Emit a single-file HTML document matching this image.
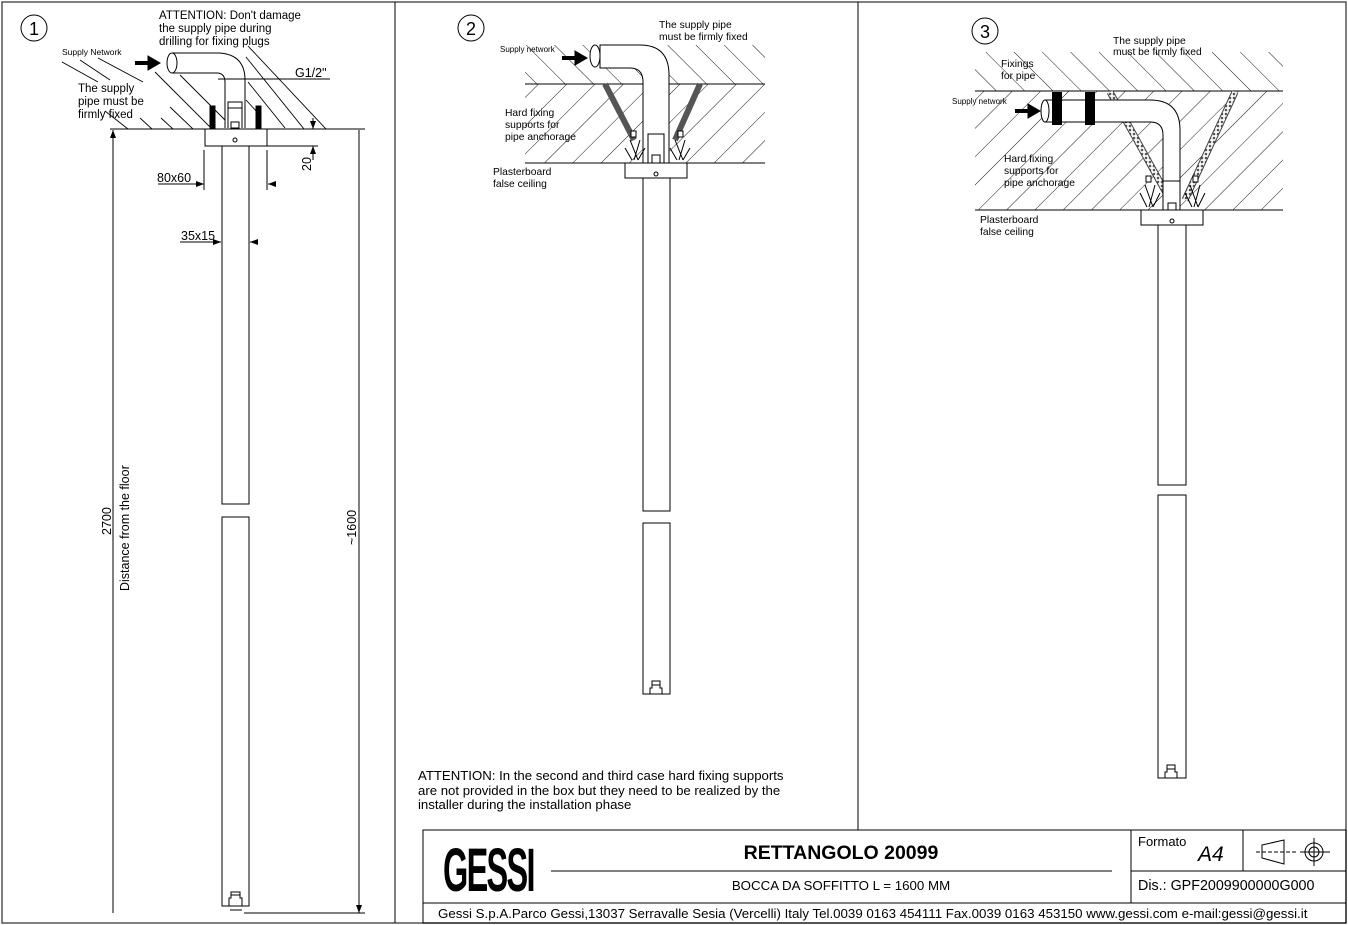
<!DOCTYPE html>
<html><head><meta charset="utf-8"><style>
html,body{margin:0;padding:0;background:#fff}
svg{display:block}
text{font-family:"Liberation Sans",Arial,sans-serif;fill:#000}
</style></head><body>
<svg width="1348" height="925" viewBox="0 0 1348 925" xmlns="http://www.w3.org/2000/svg">
<defs>
<pattern id="hf" width="20" height="20" patternUnits="userSpaceOnUse" patternTransform="rotate(45)">
<line x1="0" y1="0" x2="0" y2="20" stroke="#000" stroke-width="0.9"/></pattern>
<pattern id="hb" width="20" height="20" patternUnits="userSpaceOnUse" patternTransform="rotate(-45)">
<line x1="0" y1="0" x2="0" y2="20" stroke="#000" stroke-width="0.9"/></pattern>
<pattern id="mesh" width="4" height="4" patternUnits="userSpaceOnUse">
<rect width="4" height="4" fill="#fff"/><circle cx="2" cy="2" r="1.3" fill="#555"/></pattern>
<marker id="ar" markerWidth="8" markerHeight="6" refX="8" refY="3" orient="auto"><path d="M0,0 L8,3 L0,6z" fill="#000"/></marker>
</defs>
<g fill="none" stroke="#000" stroke-width="1">
<rect x="2" y="2" width="1344" height="921" stroke="#555" stroke-width="1.5"/>
<line x1="395" y1="2" x2="395" y2="923"/>
<line x1="858" y1="2" x2="858" y2="830"/>
<rect x="423" y="830" width="923" height="93"/>
<line x1="423" y1="903" x2="1346" y2="903"/>
<line x1="1131" y1="830" x2="1131" y2="903"/>
<line x1="1131" y1="871" x2="1346" y2="871"/>
<line x1="1243" y1="830" x2="1243" y2="871"/>
<line x1="551" y1="871" x2="1112" y2="871"/>
<path d="M1262,845 L1284,840 L1284,864 L1262,858 Z"/>
<line x1="1256" y1="852" x2="1296" y2="852" stroke-dasharray="4,2"/>
<circle cx="1314" cy="852" r="9"/><circle cx="1314" cy="852" r="5"/>
<line x1="1314" y1="838" x2="1314" y2="866"/><line x1="1300" y1="852" x2="1330" y2="852"/>

<circle cx="34" cy="28" r="13"/>
<circle cx="471" cy="28" r="13"/>
<circle cx="985" cy="31" r="13"/>

<!-- PANEL 1 -->
<line x1="110" y1="129" x2="365" y2="129"/>
<g stroke-width="0.9">
<line x1="62" y1="62" x2="98" y2="82"/><line x1="80" y1="60" x2="110" y2="80"/>
<line x1="98" y1="58" x2="143" y2="82"/>
<line x1="105" y1="111" x2="128" y2="129"/><line x1="140" y1="118" x2="152" y2="129"/>
<line x1="161" y1="118" x2="173" y2="129"/><line x1="170" y1="107" x2="193" y2="129"/>
<line x1="155" y1="72" x2="212" y2="129"/><line x1="180" y1="75" x2="225" y2="120"/>
<line x1="203" y1="75" x2="222" y2="94"/><line x1="246" y1="100" x2="258" y2="113"/>
<line x1="248" y1="82" x2="285" y2="128"/><line x1="246" y1="57" x2="304" y2="129"/>
<line x1="248" y1="46" x2="326" y2="129"/>
</g>
<path d="M172,53 L220,53 Q245,55 245,80 L245,128" fill="#fff"/>
<path d="M172,73 L218,73 Q225,74 225,82 L225,128"/>
<ellipse cx="172" cy="63" rx="5" ry="10" fill="#fff"/>
<path d="M228,128 L228,102 L242,102 L242,128 M228,108 L242,108"/>
<rect x="231" y="122" width="8" height="6"/>
<rect x="210" y="106" width="5" height="22" fill="#000"/>
<rect x="256" y="106" width="5" height="22" fill="#000"/>
<line x1="218" y1="79" x2="330" y2="79"/>
<path d="M135,63 L150,63" stroke-width="4" /><path d="M148,56 L160,63 L148,70z" fill="#000"/>
<rect x="205" y="129" width="62" height="17" fill="#fff"/>
<circle cx="235" cy="140" r="2"/>
<rect x="222" y="146" width="27" height="358"/>
<rect x="222" y="517" width="27" height="389"/>
<path d="M229,906 L229,898 L231,898 L231,892 L240,892 L240,898 L242,898 L242,906"/>
<line x1="230" y1="910" x2="242" y2="910"/>
<line x1="231" y1="895" x2="240" y2="895"/>
<line x1="267" y1="146" x2="318" y2="146"/>
<line x1="313" y1="118" x2="313" y2="129" marker-end="url(#ar)"/>
<line x1="313" y1="160" x2="313" y2="146" marker-end="url(#ar)"/>
<line x1="158" y1="184" x2="204" y2="184" marker-end="url(#ar)"/>
<line x1="276" y1="184" x2="268" y2="184" marker-end="url(#ar)"/>
<line x1="204" y1="150" x2="204" y2="190"/><line x1="267" y1="150" x2="267" y2="190"/>
<line x1="180" y1="242" x2="221" y2="242" marker-end="url(#ar)"/>
<line x1="258" y1="242" x2="250" y2="242" marker-end="url(#ar)"/>
<line x1="113" y1="913" x2="113" y2="130" marker-end="url(#ar)"/>
<line x1="359" y1="130" x2="359" y2="913" marker-end="url(#ar)"/>
<line x1="244" y1="913" x2="365" y2="913"/>

<!-- PANEL 2 -->
<rect x="525" y="84" width="240" height="79" fill="url(#hf)" stroke="none"/>
<path d="M525,45 L765,45 L765,84 L525,84 Z" fill="url(#hb)" stroke="none"/>
<line x1="525" y1="84" x2="765" y2="84"/>
<line x1="525" y1="163" x2="765" y2="163"/>
<path d="M600,45 L640,45 Q669,45 669,75 L669,163 L643,163 L643,82 Q643,68 630,68 L600,68 Z" fill="#fff"/>
<ellipse cx="595" cy="56" rx="5" ry="11" fill="#fff"/>
<path d="M605,84 L634,140" stroke="#555" stroke-width="6"/>
<path d="M700,84 L675,140" stroke="#555" stroke-width="6"/>
<path d="M562,58 L577,58" stroke-width="4"/><path d="M575,51 L587,58 L575,65z" fill="#000"/>
<rect x="648" y="134" width="16" height="29" fill="#fff"/>
<rect x="652" y="155" width="8" height="8"/>
<path d="M630,140 L638,160 M640,140 L634,160 M625,148 L632,160 M645,148 L638,160" />
<path d="M675,140 L683,160 M685,140 L679,160 M670,148 L677,160 M690,148 L683,160"/>
<rect x="631" y="131" width="5" height="6" fill="#fff"/><rect x="678" y="131" width="5" height="6" fill="#fff"/>
<rect x="625" y="163" width="62" height="15" fill="#fff"/>
<circle cx="656" cy="174" r="2"/>
<rect x="643" y="178" width="27" height="333"/>
<rect x="643" y="523" width="27" height="171"/>
<path d="M650,694 L650,688 L652,688 L652,681 L660,681 L660,688 L662,688 L662,694 Z"/>
<line x1="652" y1="685" x2="660" y2="685"/>

<!-- PANEL 3 -->
<rect x="975" y="91" width="308" height="119" fill="url(#hf)" stroke="none"/>
<path d="M975,52 L1283,52 L1283,91 L975,91 Z" fill="url(#hb)" stroke="none"/>
<line x1="975" y1="91" x2="1283" y2="91"/>
<line x1="975" y1="210" x2="1283" y2="210"/>
<path d="M1110,92 L1170,200" stroke="#444" stroke-width="7"/>
<path d="M1110,92 L1170,200" stroke="url(#mesh)" stroke-width="5"/>
<path d="M1235,92 L1185,200" stroke="#444" stroke-width="7"/>
<path d="M1235,92 L1185,200" stroke="url(#mesh)" stroke-width="5"/>
<path d="M1045,100 L1150,100 Q1180,100 1180,130 L1180,210 L1163,210 L1163,135 Q1163,122 1150,122 L1045,122 Z" fill="#fff"/>
<ellipse cx="1045" cy="111" rx="4" ry="11" fill="#fff"/>
<rect x="1052" y="92" width="10" height="33" fill="#000" stroke="none"/>
<rect x="1085" y="92" width="10" height="33" fill="#000" stroke="none"/>
<path d="M1015,111 L1030,111" stroke-width="4"/><path d="M1028,104 L1040,111 L1028,118z" fill="#000"/>
<rect x="1163" y="181" width="17" height="29" fill="#fff"/>
<rect x="1168" y="203" width="8" height="7"/>
<path d="M1145,185 L1153,207 M1155,185 L1149,207 M1140,193 L1147,207 M1160,193 L1153,207"/>
<path d="M1190,185 L1198,207 M1200,185 L1194,207 M1185,193 L1192,207 M1205,193 L1198,207"/>
<rect x="1146" y="176" width="5" height="6" fill="#fff"/><rect x="1193" y="176" width="5" height="6" fill="#fff"/>
<rect x="1141" y="210" width="62" height="15" fill="#fff"/>
<circle cx="1172" cy="221" r="2"/>
<rect x="1158" y="225" width="28" height="260"/>
<rect x="1158" y="495" width="28" height="283"/>
<path d="M1165,778 L1165,772 L1167,772 L1167,765 L1175,765 L1175,772 L1177,772 L1177,778 Z"/>
<line x1="1167" y1="769" x2="1175" y2="769"/>
</g>

<text x="34" y="35" font-size="18" text-anchor="middle">1</text>
<text x="471" y="35" font-size="18" text-anchor="middle">2</text>
<text x="985" y="38" font-size="18" text-anchor="middle">3</text>

<g font-size="11.5">
<text x="159" y="19">ATTENTION: Don't damage</text>
<text x="159" y="32">the supply pipe during</text>
<text x="159" y="45">drilling for fixing plugs</text>
<text x="78" y="92">The supply</text>
<text x="78" y="105">pipe must be</text>
<text x="78" y="118">firmly fixed</text>
<text x="295" y="77" font-size="12.5">G1/2"</text>
<text x="157" y="182" font-size="12.5">80x60</text>
<text x="181" y="240" font-size="12.5">35x15</text>
</g>
<text x="62" y="55" font-size="8.5">Supply Network</text>
<text transform="translate(311,171) rotate(-90)" font-size="12.5">20</text>
<text transform="translate(111,535) rotate(-90)" font-size="12.5">2700</text>
<text transform="translate(129,591) rotate(-90)" font-size="12.5">Distance from the floor</text>
<text transform="translate(356,545) rotate(-90)" font-size="12.5">~1600</text>

<g font-size="10.3">
<text x="659" y="28">The supply pipe</text>
<text x="659" y="40">must be firmly fixed</text>
<text x="505" y="116">Hard fixing</text>
<text x="505" y="128">supports for</text>
<text x="505" y="140">pipe anchorage</text>
<text x="493" y="175">Plasterboard</text>
<text x="493" y="187">false ceiling</text>
<text x="1113" y="44">The supply pipe</text>
<text x="1113" y="55">must be firmly fixed</text>
<text x="1001" y="67">Fixings</text>
<text x="1001" y="79">for pipe</text>
<text x="1004" y="162">Hard fixing</text>
<text x="1004" y="174">supports for</text>
<text x="1004" y="186">pipe anchorage</text>
<text x="980" y="223">Plasterboard</text>
<text x="980" y="235">false ceiling</text>
</g>
<text x="500" y="52" font-size="8">Supply network</text>
<text x="952" y="104" font-size="8">Supply network</text>

<g font-size="13.2">
<text x="418" y="780">ATTENTION: In the second and third case hard fixing supports</text>
<text x="418" y="795">are not provided in the box but they need to be realized by the</text>
<text x="418" y="809">installer during the installation phase</text>
</g>

<text transform="translate(443,891) scale(0.56,1.05)" font-size="58" font-weight="bold" letter-spacing="-3">GESSI</text>
<text x="841" y="859" font-size="19.5" font-weight="bold" text-anchor="middle">RETTANGOLO 20099</text>
<text x="841" y="890" font-size="13.3" text-anchor="middle">BOCCA DA SOFFITTO L = 1600 MM</text>
<text x="1138" y="846" font-size="13">Formato</text>
<text x="1198" y="861" font-size="21" font-style="italic">A4</text>
<text x="1138" y="890" font-size="14.3">Dis.: GPF2009900000G000</text>
<text x="438" y="918" font-size="13.3">Gessi S.p.A.Parco Gessi,13037 Serravalle Sesia (Vercelli) Italy Tel.0039 0163 454111 Fax.0039 0163 453150 www.gessi.com e-mail:gessi@gessi.it</text>
</svg>
</body></html>
